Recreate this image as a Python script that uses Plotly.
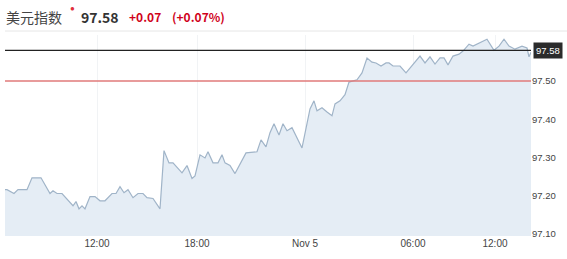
import plotly.graph_objects as go

# sample positions along the time axis (session index) and index values
pos = [5, 7, 14, 18, 27, 32, 41, 50, 53, 57, 62, 65, 73, 76, 79, 82, 85, 90, 95,
       100, 105, 112, 116, 120, 124, 128, 133, 138, 143, 147, 153, 160,
       164, 169, 173, 182, 187, 192, 195, 200, 205, 208, 213, 218, 222, 225, 230,
       235, 240, 246, 257, 261, 266, 270, 274, 279, 283, 287, 292, 297, 302,
       310, 314, 317, 322, 327, 332, 335, 340, 345, 349, 357, 362, 367, 372,
       376, 381, 386, 389, 393, 400, 406, 410, 415, 420, 425, 430, 435, 440,
       444, 448, 453, 459, 463, 469, 473, 480, 487, 494, 499, 504, 509, 515,
       522, 527, 529, 531]
vals = [97.216, 97.216, 97.206, 97.216, 97.216, 97.247, 97.247, 97.206, 97.213,
        97.206, 97.206, 97.198, 97.174, 97.185, 97.166, 97.174, 97.166, 97.198,
        97.198, 97.187, 97.187, 97.206, 97.206, 97.224, 97.208, 97.216, 97.195,
        97.206, 97.206, 97.195, 97.193, 97.166,
        97.318, 97.286, 97.286, 97.260, 97.279, 97.245, 97.252, 97.307, 97.299,
        97.315, 97.286, 97.286, 97.307, 97.286, 97.279,
        97.258, 97.284, 97.312, 97.315, 97.346, 97.328, 97.365, 97.388, 97.359,
        97.388, 97.370, 97.378, 97.352, 97.325,
        97.427, 97.448, 97.422, 97.430, 97.419, 97.409, 97.440, 97.448, 97.464,
        97.497, 97.503, 97.521, 97.560, 97.549, 97.547, 97.539, 97.547, 97.547,
        97.539, 97.539, 97.521, 97.534, 97.550, 97.565, 97.547, 97.563, 97.544,
        97.560, 97.560, 97.542, 97.565, 97.570, 97.578, 97.596, 97.591, 97.599,
        97.609, 97.580, 97.591, 97.609, 97.591, 97.583, 97.591, 97.586, 97.563,
        97.575]

tick_pos = [97, 197, 305, 413, 495]
tick_text = ["12:00", "18:00", "Nov 5", "06:00", "12:00"]
y_ticks = [97.10, 97.20, 97.30, 97.40, 97.50]
last_price = 97.58
prev_close = 97.50

fig = go.Figure()
fig.add_trace(go.Scatter(
    x=pos, y=vals, mode="lines", fill="tozeroy",
    line=dict(color="#a0b4c8", width=1.2),
    fillcolor="#e5edf5", hoverinfo="skip", showlegend=False))

fig.add_hline(y=prev_close, line=dict(color="#e07a7a", width=1.5))
fig.add_hline(y=last_price, line=dict(color="#222222", width=1.3))

fig.update_layout(
    width=567, height=259,
    margin=dict(l=5, r=36, t=35, b=23),
    paper_bgcolor="white", plot_bgcolor="white",
    font=dict(family="Liberation Sans, Arial, sans-serif", color="#444"),
    xaxis=dict(range=[5, 531], tickvals=tick_pos, ticktext=tick_text,
               showgrid=True, gridcolor="#f1f3f5", gridwidth=1,
               zeroline=False, showline=False, ticks="",
               tickfont=dict(size=10, color="#444")),
    yaxis=dict(range=[97.095, 97.62], side="right", tickvals=y_ticks,
               ticktext=[f"{v:.2f}" for v in y_ticks],
               showgrid=False, zeroline=False, ticks="",
               tickfont=dict(size=9.5, color="#444")),
)

# header line
fig.add_shape(type="line", xref="paper", yref="paper", x0=0, x1=1.07,
              y0=(236 - 31) / 201, y1=(236 - 31) / 201,
              line=dict(color="#e6e6e6", width=1))

def px(x):
    return (x - 5) / 526

def py(y):
    return (236 - y) / 201

ann = [
    dict(text="美元指数", x=px(4), y=py(17), size=14, color="#444", bold=False),
    dict(text="97.58", x=px(79), y=py(17), size=14, color="#333", bold=True),
    dict(text="+0.07", x=px(127), y=py(17), size=12, color="#d0021b", bold=True),
    dict(text="(+0.07%)", x=px(170), y=py(17), size=12, color="#d0021b", bold=True),
]
for a in ann:
    t = f"<b>{a['text']}</b>" if a["bold"] else a["text"]
    fig.add_annotation(text=t, xref="paper", yref="paper", x=a["x"], y=a["y"],
                       xanchor="left", yanchor="middle", showarrow=False,
                       font=dict(size=a["size"], color=a["color"],
                                 family="Noto Sans CJK SC, Liberation Sans, sans-serif"))
fig.add_annotation(text="●", xref="paper", yref="paper", x=px(72), y=py(9),
                   xanchor="center", yanchor="middle", showarrow=False,
                   font=dict(size=8, color="#e0303a"))
fig.add_annotation(text=f"{last_price:.2f}", xref="paper", x=1.003, yref="y", y=last_price,
                   xanchor="left", yanchor="middle", showarrow=False,
                   bgcolor="#2b2b2b", font=dict(size=9.5, color="white"),
                   borderpad=2)

fig.write_html("out.html")
